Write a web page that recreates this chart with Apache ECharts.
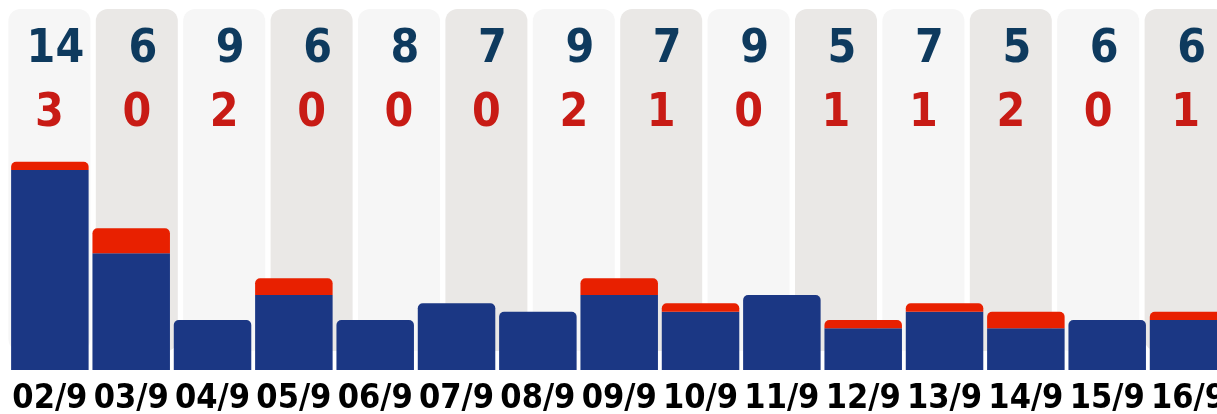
<!DOCTYPE html>
<html>
<head>
<meta charset="utf-8">
<script src="https://cdn.jsdelivr.net/npm/echarts@6/dist/echarts.min.js"></script>
<style>
  html, body { margin:0; padding:0; background:#fff; }
  #chart { width:1217px; height:414px; }
</style>
</head>
<body>
<div id="chart"></div>
<script>
// ===== Dados
const dias = ['02/9','03/9','04/9','05/9','06/9','07/9','08/9','09/9','10/9','11/9','12/9','13/9','14/9','15/9','16/9'];
const azul = [24,14,6,9,6,8,7,9,7,9,5,7,5,6,6];
const vermelho = [1,3,0,2,0,0,0,2,1,0,1,1,2,0,1];

// números do topo (colunas de fundo)
const topoAzul = [14,6,9,6,8,7,9,7,9,5,7,5,6,6];
const topoVermelho = [3,0,2,0,0,0,2,1,0,1,1,2,0,1];

const FONTE = '"DejaVu Sans Condensed","Liberation Sans Narrow",sans-serif';
const COR_AZUL = '#1b3784', COR_VERM = '#e82000';

const chart = echarts.init(document.getElementById('chart'));

chart.setOption({
  animation:false,
  backgroundColor:'#fff',
  grid:[
    { left:5.7, top:9, width:1223.6, height:342, outerBoundsMode:'none' },   // faixas de fundo
    { left:9.2, top:161.67, width:1220, bottom:44, outerBoundsMode:'none' }  // barras
  ],
  xAxis:[
    { gridIndex:0, type:'category', data:topoAzul.map((v,i)=>String(i)), show:false },
    { gridIndex:1, type:'category', data:dias,
      axisLine:{show:false}, axisTick:{show:false},
      axisLabel:{ color:'#000', fontFamily:FONTE, fontWeight:'bold', fontSize:34, margin:12, interval:0 } }
  ],
  yAxis:[
    { gridIndex:0, type:'value', min:0, max:1, show:false },
    { gridIndex:1, type:'value', min:0, max:25, show:false }
  ],
  series:[
    {
      type:'bar', xAxisIndex:0, yAxisIndex:0, barWidth:82, silent:true,
      data: topoAzul.map((v,i)=>({
        value:1,
        itemStyle:{ color: i%2===0 ? '#f6f6f6' : '#eae8e6', borderRadius:12 }
      })),
      label:{
        show:true, position:'insideTop', distance:9,
        formatter: p => `{b|${topoAzul[p.dataIndex]}}\n{r|${topoVermelho[p.dataIndex]}}`,
        rich:{
          b:{ color:'#0e3a5e', fontFamily:FONTE, fontWeight:'bold', fontSize:46, lineHeight:64, padding:[0,0,0,12] },
          r:{ color:'#c81b15', fontFamily:FONTE, fontWeight:'bold', fontSize:46, lineHeight:64 }
        }
      }
    },
    {
      type:'bar', xAxisIndex:1, yAxisIndex:1, stack:'t', barWidth:77.5,
      data: azul.map((v,i)=>({
        value:v,
        itemStyle:{ color:COR_AZUL, borderRadius: vermelho[i]===0 ? [5,5,0,0] : 0 }
      }))
    },
    {
      type:'bar', xAxisIndex:1, yAxisIndex:1, stack:'t', barWidth:77.5,
      itemStyle:{ color:COR_VERM, borderRadius:[5,5,0,0] },
      data: vermelho
    }
  ]
});
</script>
</body>
</html>
